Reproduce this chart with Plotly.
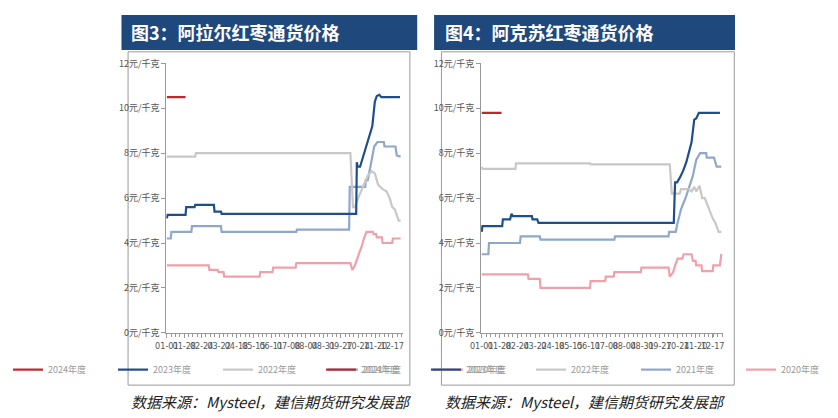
import plotly.graph_objects as go

tick_days = [0, 27, 54, 81, 108, 135, 162, 189, 216, 243, 270, 297, 324, 350]
tick_labels = ["01-01", "01-28", "02-24", "03-22", "04-18", "05-15", "06-11",
               "07-08", "08-04", "08-31", "09-27", "10-24", "11-20", "12-17"]
y_ticks = [0, 2, 4, 6, 8, 10, 12]
y_labels = [f"{v}元/千克" for v in y_ticks]
series_names = ["2024年度", "2023年度", "2022年度", "2021年度", "2020年度"]
colors = ["#C0272D", "#1F4E8C", "#C8C8C8", "#8FA7CC", "#EFA0AA"]

# Alar (left)
alar_2024_x = [0, 29]; alar_2024_y = [10.5, 10.5]
alar_2023_x = [0, 1, 29, 30, 43, 44, 73, 74, 84, 85, 292, 294, 295, 296, 300, 306, 309, 314, 318, 319, 323, 326, 330, 333, 362]
alar_2023_y = [5.1, 5.25, 5.25, 5.6, 5.6, 5.7, 5.7, 5.4, 5.4, 5.3, 5.3, 5.3, 7.6, 7.4, 7.4, 8.0, 8.3, 8.8, 9.2, 9.2, 10.3, 10.55, 10.6, 10.5, 10.5]
alar_2022_x = [0, 44, 45, 285, 289, 292, 297, 304, 312, 318, 323, 328, 335, 341, 346, 350, 354, 360, 363]
alar_2022_y = [7.85, 7.85, 8.0, 8.0, 5.6, 5.6, 6.0, 6.5, 7.0, 7.2, 7.1, 6.6, 6.4, 6.3, 6.0, 5.6, 5.5, 5.0, 5.0]
alar_2021_x = [0, 6, 7, 38, 39, 84, 85, 201, 202, 283, 284, 308, 309, 312, 316, 322, 327, 337, 338, 355, 357, 363]
alar_2021_y = [4.2, 4.2, 4.5, 4.5, 4.75, 4.75, 4.5, 4.5, 4.6, 4.6, 6.5, 6.5, 6.8, 6.8, 7.4, 8.3, 8.5, 8.5, 8.3, 8.3, 7.9, 7.85]
alar_2020_x = [0, 65, 66, 79, 80, 88, 89, 144, 145, 164, 165, 200, 201, 285, 288, 292, 298, 302, 306, 310, 320, 321, 325, 326, 334, 335, 350, 351, 363]
alar_2020_y = [3.0, 3.0, 2.8, 2.8, 2.7, 2.7, 2.5, 2.5, 2.7, 2.7, 2.9, 2.9, 3.1, 3.1, 2.8, 3.0, 3.5, 3.8, 4.2, 4.5, 4.5, 4.4, 4.4, 4.25, 4.25, 4.0, 4.0, 4.2, 4.2]

# Aksu (right)
aksu_2024_x = [0, 30]; aksu_2024_y = [9.8, 9.8]
aksu_2023_x = [0, 1, 31, 32, 43, 45, 47, 76, 77, 84, 86, 291, 293, 296, 300, 305, 310, 318, 322, 325, 329, 361]
aksu_2023_y = [4.5, 4.75, 4.75, 5.05, 5.05, 5.3, 5.2, 5.2, 5.05, 5.05, 4.9, 4.9, 6.7, 6.7, 6.9, 7.2, 7.6, 8.5, 9.5, 9.55, 9.8, 9.8]
aksu_2022_x = [0, 1, 51, 52, 164, 165, 285, 288, 300, 302, 313, 318, 322, 325, 330, 334, 338, 344, 350, 354, 359, 363]
aksu_2022_y = [7.4, 7.3, 7.3, 7.55, 7.55, 7.5, 7.5, 6.2, 6.2, 6.4, 6.4, 6.3, 6.5, 6.3, 6.55, 6.0, 6.0, 5.5, 5.1, 4.9, 4.5, 4.5]
aksu_2021_x = [0, 10, 11, 58, 59, 88, 89, 201, 202, 283, 284, 294, 296, 302, 310, 316, 320, 325, 331, 340, 341, 352, 356, 363]
aksu_2021_y = [3.5, 3.5, 4.0, 4.0, 4.3, 4.3, 4.15, 4.15, 4.3, 4.3, 4.5, 4.5, 4.8, 5.5, 6.1, 6.6, 7.0, 7.7, 8.0, 8.0, 7.8, 7.8, 7.4, 7.4]
aksu_2020_x = [0, 70, 71, 88, 89, 164, 165, 187, 188, 200, 201, 241, 242, 283, 285, 290, 293, 297, 304, 306, 318, 320, 324, 325, 333, 334, 350, 351, 361, 363]
aksu_2020_y = [2.6, 2.6, 2.4, 2.4, 2.0, 2.0, 2.3, 2.3, 2.5, 2.5, 2.7, 2.7, 2.9, 2.9, 2.5, 2.7, 3.0, 3.3, 3.3, 3.5, 3.5, 3.2, 3.2, 3.0, 3.0, 2.75, 2.75, 3.0, 3.0, 3.5]

W, H = 838, 418
def px(x): return x / W
def py(y): return 1 - y / H

fig = go.Figure()
left = [(alar_2024_x, alar_2024_y), (alar_2023_x, alar_2023_y), (alar_2022_x, alar_2022_y),
        (alar_2021_x, alar_2021_y), (alar_2020_x, alar_2020_y)]
right = [(aksu_2024_x, aksu_2024_y), (aksu_2023_x, aksu_2023_y), (aksu_2022_x, aksu_2022_y),
         (aksu_2021_x, aksu_2021_y), (aksu_2020_x, aksu_2020_y)]
order = [4, 3, 2, 1, 0]
for i in order:
    fig.add_trace(go.Scatter(x=left[i][0], y=left[i][1], mode="lines", name=series_names[i],
                             line=dict(color=colors[i], width=2.2), xaxis="x", yaxis="y",
                             legend="legend", legendrank=i))
    fig.add_trace(go.Scatter(x=right[i][0], y=right[i][1], mode="lines", name=series_names[i],
                             line=dict(color=colors[i], width=2.2), xaxis="x2", yaxis="y2",
                             legend="legend2", legendrank=i))

narrow = "Liberation Sans Narrow, DejaVu Sans Condensed, Noto Sans CJK SC"
axfont = dict(family=narrow, size=9, color="#555")
yfont = dict(family="Noto Sans CJK SC", size=9, color="#555")
def xax(dom, anchor):
    return dict(domain=dom, anchor=anchor, range=[-1, 366], tickvals=tick_days, ticktext=tick_labels,
                showgrid=False, zeroline=False, showline=True, linecolor="#999", ticks="outside",
                ticklen=4, tickcolor="#999", tickfont=axfont, tickangle=0,
                minor=dict(ticks="outside", ticklen=3, tickcolor="#999", tick0=0, dtick=6.75))
def yax(anchor):
    return dict(domain=[py(328), py(50)], anchor=anchor, range=[0, 12], tickvals=y_ticks, ticktext=y_labels,
                showgrid=False, zeroline=False, showline=True, linecolor="#999", ticks="outside",
                ticklen=4, tickcolor="#999", tickfont=yfont)

legfont = dict(family="Noto Sans CJK SC", size=9, color="#999")
leg = dict(orientation="h", xanchor="center", yanchor="middle", font=legfont, traceorder="normal",
           itemwidth=30, tracegroupgap=0, entrywidth=60, entrywidthmode="pixels", bgcolor="rgba(0,0,0,0)")
fig.update_layout(
    width=W, height=H, margin=dict(l=0, r=0, t=0, b=0),
    paper_bgcolor="white", plot_bgcolor="white",
    xaxis=xax([px(63), px(385)], "y"), yaxis=yax("x"),
    xaxis2=xax([px(492), px(822)], "y2"), yaxis2=yax("x2"),
    legend=dict(leg, x=px(205), y=py(366)),
    legend2=dict(leg, x=px(632), y=py(366)),
    shapes=[
        dict(type="rect", xref="paper", yref="paper", x0=px(2), x1=px(405), y0=py(36), y1=py(0),
             fillcolor="#1F497D", line=dict(width=0), layer="below"),
        dict(type="rect", xref="paper", yref="paper", x0=px(428), x1=px(838), y0=py(36), y1=py(0),
             fillcolor="#1F497D", line=dict(width=0), layer="below"),
        dict(type="rect", xref="paper", yref="paper", x0=px(11), x1=px(395), y0=py(382), y1=py(38),
             line=dict(color="#999", width=1), layer="below"),
        dict(type="rect", xref="paper", yref="paper", x0=px(438), x1=px(837), y0=py(382), y1=py(38),
             line=dict(color="#999", width=1), layer="below"),
    ],
    annotations=[
        dict(text="<b>图3：阿拉尔红枣通货价格</b>", xref="paper", yref="paper", x=px(12), y=py(18),
             xanchor="left", yanchor="middle", showarrow=False,
             font=dict(family="Noto Sans CJK SC", size=18, color="white")),
        dict(text="<b>图4：阿克苏红枣通货价格</b>", xref="paper", yref="paper", x=px(440), y=py(18),
             xanchor="left", yanchor="middle", showarrow=False,
             font=dict(family="Noto Sans CJK SC", size=18, color="white")),
        dict(text="<i>数据来源：Mysteel，建信期货研究发展部</i>", xref="paper", yref="paper", x=px(12), y=py(399),
             xanchor="left", yanchor="middle", showarrow=False,
             font=dict(family="Noto Sans CJK SC", size=15, color="#222")),
        dict(text="<i>数据来源：Mysteel，建信期货研究发展部</i>", xref="paper", yref="paper", x=px(440), y=py(399),
             xanchor="left", yanchor="middle", showarrow=False,
             font=dict(family="Noto Sans CJK SC", size=15, color="#222")),
    ],
)
fig.write_html("out.html")
